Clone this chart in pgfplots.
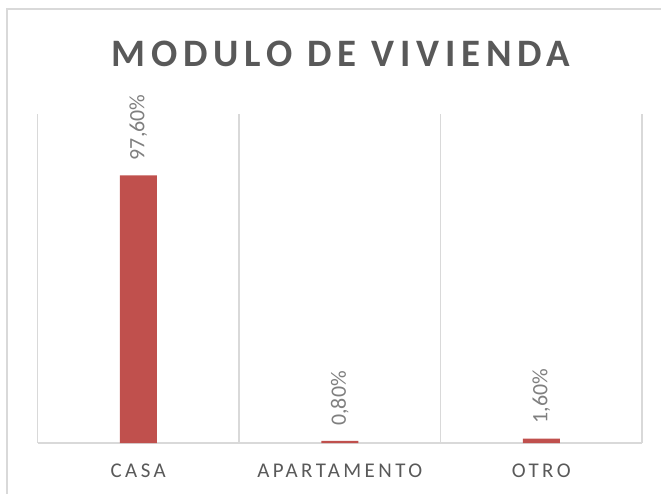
\documentclass[border=0pt]{standalone}
\usepackage{pgfplots}
\pgfplotsset{compat=1.18}
\usepackage{fontspec}
\setmainfont{Carlito}
\newfontfamily\spacedfont[LetterSpace=16.5]{Carlito}
\newfontfamily\titlefont[LetterSpace=15]{Carlito}
\definecolor{barred}{HTML}{C0504D}
\definecolor{gridgray}{HTML}{D9D9D9}
\definecolor{txtgray}{HTML}{595959}
\definecolor{lblgray}{HTML}{7F7F7F}
\begin{document}
\begin{tikzpicture}
\useasboundingbox (0,0) rectangle (661bp,494bp);
\draw[gridgray, line width=1.5bp] (7bp,0) -- (7bp,485bp) -- (661bp,485bp);
\node[anchor=base, text=txtgray, font=\titlefont\bfseries\fontsize{39}{42}\selectfont, inner sep=0] at (341bp,427bp) {MODULO DE VIVIENDA};
\begin{axis}[
  at={(37.5bp,51bp)}, anchor=south west,
  scale only axis, width=604.5bp, height=329bp,
  xmin=-0.5, xmax=2.5, ymin=0, ymax=120,
  axis y line=none,
  axis x line*=bottom,
  x axis line style={gridgray, line width=1.2bp, -},
  xtick={0,1,2},
  xticklabels={CASA,APARTAMENTO,OTRO},
  minor xtick={-0.5,0.5,1.5,2.5},
  xminorgrids=true,
  minor grid style={gridgray, line width=1.2bp},
  major tick length=0pt, minor tick length=0pt,
  xticklabel style={text=txtgray, font=\spacedfont\fontsize{21}{24}\selectfont, yshift=-17bp},
  ybar, bar width=37bp,
  point meta=explicit symbolic,
  nodes near coords,
  every node near coord/.append style={rotate=90, anchor=west, text=lblgray, font=\fontsize{22}{24}\selectfont, inner xsep=15bp, inner ysep=0pt},
  clip=false,
]
\addplot[fill=barred, draw=none] coordinates {(0,97.6) [97,60\%] (1,0.8) [0,80\%] (2,1.6) [1,60\%]};
\end{axis}
\end{tikzpicture}
\end{document}
